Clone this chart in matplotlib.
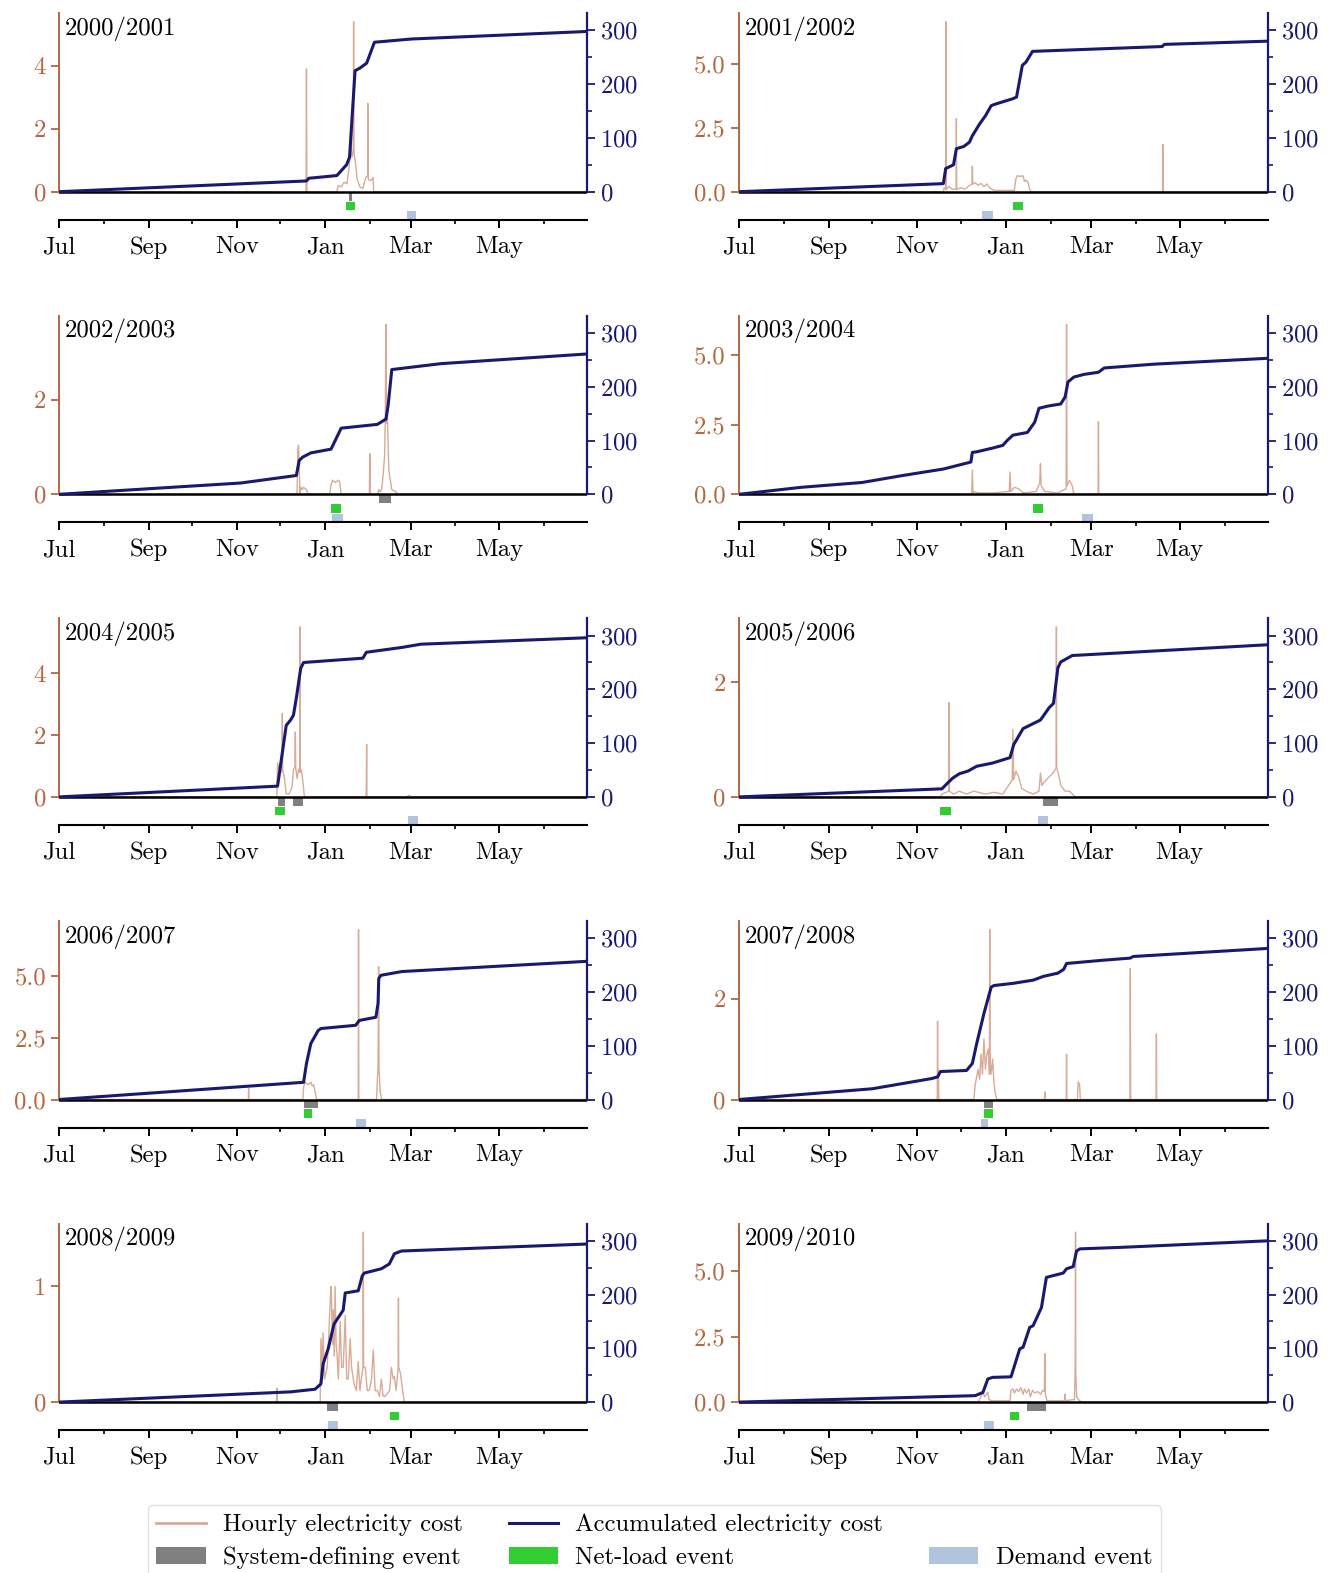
import matplotlib
matplotlib.use("Agg")
import matplotlib.pyplot as plt
import matplotlib.ticker as mticker
from matplotlib.lines import Line2D
from matplotlib.patches import Patch

plt.rcParams['font.family'] = 'serif'
plt.rcParams['font.serif'] = ['cmr10']
plt.rcParams['mathtext.fontset'] = 'cm'
plt.rcParams['axes.formatter.use_mathtext'] = True
plt.rcParams['axes.unicode_minus'] = False
plt.rcParams['font.size'] = 17.8

# colores
c_hourly = '#d8ab96'
c_left = '#b5673f'
c_acc = '#191970'
c_sys = '#808080'
c_net = '#32cd32'
c_dem = '#b0c4de'

# ---- datos (dia desde el 1 de julio, valor) ----
years = ['2000/2001', '2001/2002', '2002/2003', '2003/2004', '2004/2005',
         '2005/2006', '2006/2007', '2007/2008', '2008/2009', '2009/2010']

hourly_2000 = [(0, 0), (170.7, 0), (171, 3.9), (171.3, 0), (192, 0), (193, 0.2), (195, 0.15), (197, 0.3),
               (199, 0.25), (200.5, 0.8), (201.5, 1.6), (202.5, 1.1), (203.3, 1.3), (203.6, 5.4), (203.9, 1.2),
               (205, 0.9), (206, 0.4), (208, 0.15), (210, 0.1), (212, 0.45), (213.3, 0.5), (213.5, 2.8),
               (213.7, 0.4), (215, 0.35), (216.5, 0.4), (217, 0.45), (217.5, 0), (365, 0)]
hourly_2001 = [(0, 0), (141, 0), (141.5, 0.15), (142.6, 0.1), (142.8, 6.64), (143, 0.1), (145, 0.2), (147, 0.1),
               (149.8, 0.1), (150, 2.85), (150.2, 0.1), (153, 0.15), (156, 0.1), (158, 0.2), (160.7, 0.3),
               (161, 1.0), (161.3, 0.3), (163, 0.35), (165, 0.25), (167, 0.32), (169, 0.2), (171, 0.3),
               (173, 0.15), (176, 0.05), (190, 0.05), (191, 0.5), (192, 0.62), (194, 0.6), (196, 0.62),
               (197, 0.4), (198, 0.45), (199.5, 0.35), (200.5, 0.1), (201.5, 0), (292.3, 0), (292.5, 1.84),
               (292.7, 0), (365, 0)]
hourly_2002 = [(0, 0), (164.5, 0), (165, 0.95), (165.5, 1.04), (166, 0.6), (166.5, 0), (167, 0.15), (168, 0.1),
               (169, 0.15), (170, 0.12), (171, 0.1), (172, 0), (187, 0), (188, 0.2), (189, 0.3), (191, 0.25),
               (193, 0.3), (194, 0.25), (195, 0), (214.5, 0), (214.8, 0.86), (215.1, 0), (220, 0), (221, 0.1),
               (222, 0.05), (223, 0.1), (224, 0.4), (225, 0.8), (225.5, 1.57), (225.9, 3.6), (226.3, 1.5),
               (227, 1.6), (228, 0.5), (229, 0.3), (230, 0.1), (233, 0.05), (234, 0), (365, 0)]
hourly_2003 = [(0, 0), (160.5, 0), (161, 0.87), (161.5, 0), (162, 0.1), (165, 0.05), (175, 0.05), (186.5, 0.1),
               (187, 0.8), (187.5, 0.1), (190, 0.25), (193, 0.2), (196, 0.05), (205, 0.1), (207.5, 0.4),
               (208, 1.1), (208.5, 0.3), (211, 0.1), (220, 0.05), (225.7, 0.2), (226, 6.1), (226.3, 0.3),
               (228, 0.5), (230, 0.3), (231, 0), (247.8, 0), (248, 2.6), (248.2, 0), (365, 0)]
hourly_2004 = [(0, 0), (150.5, 0), (151, 1.1), (152, 0.9), (153, 1.0), (154, 0.8), (154.3, 2.7), (154.6, 0.8),
               (155.5, 0.7), (156.5, 0.3), (157, 0.1), (159, 0.1), (160, 0.2), (161, 0.3), (162, 0.9),
               (163, 0.96), (163.3, 2.1), (163.6, 0.9), (164.5, 0.6), (165.5, 0.9), (166.3, 0.8),
               (166.5, 5.5), (166.7, 0.8), (167.5, 0.87), (168.5, 0.5), (169.6, 0), (212.2, 0), (212.4, 0.4),
               (212.6, 1.7), (212.8, 0), (240, 0), (242, 0.05), (244, 0), (365, 0)]
hourly_2005 = [(0, 0), (139, 0), (140, 0.05), (144.8, 0.1), (145, 1.65), (145.2, 0.1), (148, 0.05), (152, 0.1),
               (157, 0.05), (162, 0.1), (170, 0.05), (176, 0.08), (182, 0.05), (186, 0.2), (188.5, 0.3),
               (189, 1.18), (189.5, 0.3), (191, 0.45), (193, 0.35), (195, 0.15), (198, 0.1), (203, 0.05),
               (207, 0.1), (208, 0.42), (209, 0.2), (212, 0.3), (214, 0.35), (216, 0.4), (218.8, 0.5),
               (219, 2.97), (219.2, 0.5), (220.5, 0.4), (222, 0.2), (225, 0.1), (228, 0.1), (230, 0.05),
               (232, 0), (365, 0)]
hourly_2006 = [(0, 0), (130.8, 0), (131, 0.45), (131.2, 0), (168.5, 0), (169, 0.5), (170, 0.7), (172, 0.6),
               (174, 0.7), (175, 0.55), (176, 0.6), (177, 0.3), (178, 0), (206.8, 0), (207, 6.9), (207.2, 0),
               (219.5, 0), (220, 0.8), (220.5, 1.3), (220.9, 5.4), (221.2, 1.2), (222, 0.3), (223, 0), (365, 0)]
hourly_2007 = [(0, 0), (136.8, 0), (137, 1.55), (137.2, 0), (137.6, 0.6), (137.9, 0), (162, 0), (163, 0.3),
               (165, 0.6), (166, 0.4), (167, 0.9), (168, 0.5), (169, 1.2), (170, 0.6), (171, 0.9), (172, 1.0),
               (172.8, 0.5), (173, 3.37), (173.2, 0.8), (174, 0.5), (175, 0.8), (176, 0.3), (177, 0.1),
               (178, 0), (210.8, 0), (211, 0.15), (211.2, 0), (225.8, 0), (226, 0.9), (226.2, 0), (233.5, 0),
               (234, 0.35), (235, 0.3), (235.5, 0), (269.8, 0), (270, 2.6), (270.2, 0), (287.8, 0),
               (288, 1.3), (288.2, 0), (365, 0)]
hourly_2008 = [(0, 0), (150.4, 0), (150.6, 0.12), (150.8, 0), (180.5, 0), (181, 0.55), (182, 0.3), (182.5, 0.6),
               (183.5, 0.2), (185.3, 0.3), (186.5, 0.6), (187.5, 0.9), (188.1, 1.0), (189, 0.5), (189.5, 0.8),
               (190.2, 0.4), (190.8, 1.0), (191.5, 0.5), (192.2, 0.4), (193, 0.2), (194.3, 0.7), (195.3, 0.3),
               (196.4, 0.3), (197.8, 0.75), (198.8, 0.2), (199.9, 0.2), (201.2, 0.55), (202.2, 0.3),
               (204, 0.15), (205.5, 0.1), (206.8, 0.35), (208, 0.1), (208.9, 0.2), (210.1, 0.3), (210.3, 1.47),
               (210.5, 0.3), (211.7, 0.3), (213, 0.1), (214.4, 0.1), (216, 0.2), (217.2, 0.45), (218.5, 0.1),
               (220, 0.1), (221.5, 0.05), (222.8, 0.2), (224, 0.05), (225.5, 0.05), (228.5, 0.1), (229.7, 0.3),
               (231, 0.2), (231.8, 0.22), (233, 0.1), (234.4, 0.3), (234.6, 0.9), (234.8, 0.3), (236, 0.25),
               (237.5, 0.1), (238.7, 0), (365, 0)]
hourly_2009 = [(0, 0), (165, 0), (166, 0.1), (168.3, 0.38), (169.5, 0.2), (171.7, 0.38), (172.5, 0.1),
               (174, 0.05), (180, 0.05), (187, 0.05), (187.7, 0.45), (189, 0.5), (190, 0.35), (191.5, 0.5),
               (193, 0.4), (194.5, 0.55), (196, 0.3), (197, 0.5), (198.5, 0.35), (200, 0.5), (201, 0.2),
               (202.5, 0.45), (204, 0.35), (206, 0.4), (208, 0.3), (209.5, 0.45), (210.7, 0.4), (211, 1.85),
               (211.4, 0.3), (212.5, 0.05), (218, 0.05), (224.8, 0.05), (225, 0.3), (225.3, 0.05), (231.5, 0.1),
               (232, 1.5), (232.2, 6.5), (232.4, 1.0), (233, 0.2), (235, 0.05), (237, 0), (365, 0)]

acc_2000 = [(0, 0), (171, 20), (172.6, 25), (192, 30), (198.7, 50), (200.8, 64), (204.6, 225), (208, 230),
            (212.6, 239), (218, 278), (243.6, 284), (365, 298)]
acc_2001 = [(0, 0), (141, 15), (142.6, 43), (148, 50), (150, 80), (155, 84), (159, 92), (161, 104), (166, 126),
            (170, 141), (174, 160), (177, 163), (189, 173), (191.5, 176), (195.5, 235), (198, 241),
            (202.5, 261), (292, 270), (293.5, 274), (365, 280)]
acc_2002 = [(0, 0), (125.6, 21), (164, 35), (166, 63), (168.3, 69), (174, 77), (188, 84), (195, 123),
            (220, 130), (226, 140), (227.5, 166), (230, 232), (264, 243), (365, 261)]
acc_2003 = [(0, 0), (43, 13), (85, 22), (113, 35), (141, 47), (160, 60), (161, 78), (164, 79), (175, 86),
            (182, 91), (185, 100), (189, 110), (199, 115), (204, 134), (207, 160), (213, 164), (222, 168),
            (225, 181), (227, 209), (231, 218), (238, 223), (248, 227), (252, 235), (286, 242), (365, 253)]
acc_2004 = [(0, 0), (151, 20), (157, 133), (160, 143), (162, 152), (164, 184), (167, 239), (169, 250),
            (210, 258), (212.4, 269), (237, 278), (250, 284), (365, 296)]
acc_2005 = [(0, 0), (140, 15), (144, 26), (147.5, 35), (152, 43), (158, 48), (164, 57), (175, 63), (187, 73),
            (189.5, 97), (196, 127), (208, 143), (214, 166), (217, 174), (220, 240), (222, 251), (230, 263),
            (237, 264), (365, 283)]
acc_2006 = [(0, 0), (169, 32), (171, 67), (174, 104), (179, 128), (181, 132), (205, 138), (207.5, 147),
            (219, 153), (220.5, 179), (221, 225), (222.5, 231), (237, 238), (365, 257)]
acc_2007 = [(0, 0), (92, 20), (133, 39), (137, 42), (139, 52), (157, 54), (161, 67), (164, 104), (169, 160),
            (174, 209), (176, 212), (189, 216), (203, 222), (210, 229), (220, 235), (224, 242), (226, 253),
            (251, 259), (270, 263), (272, 266), (365, 281)]
acc_2008 = [(0, 0), (160, 19), (177, 24), (181, 34), (182.5, 71), (186, 99), (190, 145), (196.4, 171),
            (197.8, 203), (206.8, 207), (209.6, 235), (211, 240), (222.8, 248), (228.3, 257), (231.8, 276),
            (236.7, 281), (365, 294)]
acc_2009 = [(0, 0), (163, 12), (168.3, 18), (171.7, 43), (175, 46), (187.7, 47), (193.7, 99), (196, 102),
            (200.6, 139), (202.9, 142), (208.7, 176), (212.1, 232), (223.7, 240), (226, 248), (230.6, 252),
            (232.9, 281), (235.2, 285), (265.2, 288), (365, 300)]

# eventos (inicio, fin) en dias
sys_events = [[(200.5, 202.5)], [], [(221, 229.5)], [], [(151, 156), (161.5, 168.4)],
              [(210, 220)], [(169, 179)], [(169, 175)], [(185, 193)], [(199, 212)]]
net_events = [[(198.5, 204.5)], [(189, 196)], [(188, 195)], [(203, 210)], [(149.4, 156.3)],
              [(139, 146)], [(169, 175)], [(169, 175)], [(229, 235)], [(187, 193)]]
dem_events = [[(240.5, 247)], [(168, 175)], [(189, 196)], [(237, 244)], [(241, 248)],
              [(206, 213)], [(205, 212)], [(167, 172)], [(186, 193)], [(169, 176)]]

left_ticks = [[0, 2, 4], [0, 2.5, 5.0], [0, 2], [0, 2.5, 5.0], [0, 2, 4],
              [0, 2], [0, 2.5, 5.0], [0, 2], [0, 1], [0, 2.5, 5.0]]
right_ticks = [0, 100, 200, 300]
right_minor = [50, 150, 250]

month_days = [0, 31, 62, 92, 123, 153, 184, 215, 243, 274, 304, 335]
month_labels = ['Jul', 'Sep', 'Nov', 'Jan', 'Mar', 'May']

hourly_all = [hourly_2000, hourly_2001, hourly_2002, hourly_2003, hourly_2004,
              hourly_2005, hourly_2006, hourly_2007, hourly_2008, hourly_2009]
acc_all = [acc_2000, acc_2001, acc_2002, acc_2003, acc_2004,
           acc_2005, acc_2006, acc_2007, acc_2008, acc_2009]

# ---- figura ----
W, H = 1341, 1573
fig = plt.figure(figsize=(W / 100, H / 100), dpi=100)

f0 = 28 / 206.5       # fraccion de la franja de eventos
acc_top = 332
band = f0 / 3

for i, year in enumerate(years):
    row, col = i // 2, i % 2
    x0 = 59.2 if col == 0 else 739.0
    x1 = 587.0 if col == 0 else 1268.0
    ybot = 219.7 + 302.6 * row
    ax = fig.add_axes([x0 / W, 1 - ybot / H, (x1 - x0) / W, 206.5 / H])

    d = [p[0] for p in hourly_all[i]]
    v = [p[1] for p in hourly_all[i]]
    top = max(v) * 1.05
    ax.plot(d, v, color=c_hourly, lw=1.0, zorder=2)
    ax.axhline(0, color='black', lw=1.8, zorder=3)
    ax.set_ylim(-top * f0 / (1 - f0), top)
    ax.set_xlim(0, 365)

    trans = ax.get_xaxis_transform()
    for k, (evs, c) in enumerate([(sys_events[i], c_sys), (net_events[i], c_net), (dem_events[i], c_dem)]):
        if evs:
            ax.broken_barh([(a, b - a) for a, b in evs], (f0 - (k + 1) * band + 0.05 * band, 0.88 * band),
                           facecolors=c, transform=trans, zorder=2)

    ax.spines['top'].set_visible(False)
    ax.spines['right'].set_visible(False)
    ax.spines['left'].set_bounds(0, top)
    ax.spines['left'].set_color(c_left)
    ax.spines['left'].set_linewidth(1.4)
    ax.spines['bottom'].set_linewidth(1.5)

    ax.set_yticks(left_ticks[i])
    if 2.5 in left_ticks[i]:
        ax.set_yticklabels([f'{t:.1f}' for t in left_ticks[i]])
    else:
        ax.set_yticklabels([f'{t:g}' for t in left_ticks[i]])
    ax.tick_params(axis='y', colors=c_left, length=6, width=1.3)

    ax.set_xticks(month_days[::2])
    ax.set_xticklabels(month_labels)
    ax.set_xticks(month_days[1::2], minor=True)
    ax.tick_params(axis='x', which='major', length=6, width=1.4, pad=6)
    ax.tick_params(axis='x', which='minor', length=3, width=1.2)

    ax.text(0.01, 0.985, year, transform=ax.transAxes, ha='left', va='top', zorder=5)

    ax2 = ax.twinx()
    ad = [p[0] for p in acc_all[i]]
    av = [p[1] for p in acc_all[i]]
    ax2.plot(ad, av, color=c_acc, lw=2.2, zorder=4)
    ax2.set_ylim(-acc_top * f0 / (1 - f0), acc_top)
    ax2.set_xlim(0, 365)
    for s in ['top', 'left', 'bottom']:
        ax2.spines[s].set_visible(False)
    ax2.spines['right'].set_bounds(0, acc_top)
    ax2.spines['right'].set_color(c_acc)
    ax2.spines['right'].set_linewidth(1.6)
    ax2.set_yticks(right_ticks)
    ax2.yaxis.set_minor_locator(mticker.FixedLocator(right_minor))
    ax2.tick_params(axis='y', which='major', colors=c_acc, length=6, width=1.3)
    ax2.tick_params(axis='y', which='minor', colors=c_acc, length=3.5, width=1.2)

handles = [Line2D([], [], color=c_hourly, lw=2),
           Patch(facecolor=c_sys),
           Line2D([], [], color=c_acc, lw=2.2),
           Patch(facecolor=c_net),
           Patch(facecolor='none', edgecolor='none'),
           Patch(facecolor=c_dem)]
labels = ['Hourly electricity cost', 'System-defining event',
          'Accumulated electricity cost', 'Net-load event',
          '', 'Demand event']
fig.legend(handles, labels, ncol=3, mode='expand', loc='lower left',
           bbox_to_anchor=(147.5 / W, -0.003, (1161 - 147.5) / W, 72 / H),
           borderaxespad=0, handlelength=2.0, handletextpad=0.7,
           labelspacing=0.42, borderpad=0.35, fancybox=True, edgecolor='0.85')

fig.savefig('out.png', dpi=100)
